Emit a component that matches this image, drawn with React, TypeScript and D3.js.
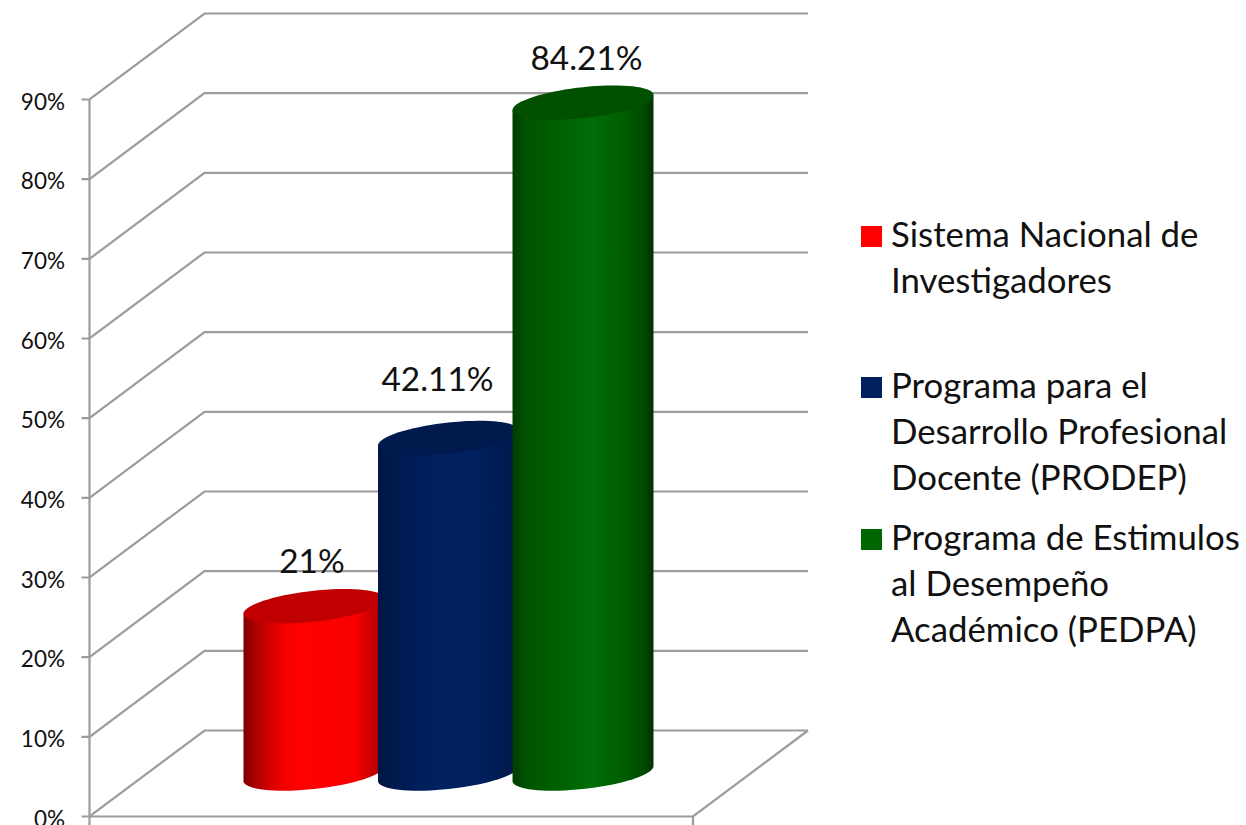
import React from "react";
import * as d3 from "d3";

// Percentages shown on the value axis and on each cylinder
const yTicks = [0, 10, 20, 30, 40, 50, 60, 70, 80, 90];
const programs = ["SNI", "PRODEP", "PEDPA"];
const values = [21, 42.11, 84.21];
const valueLabels = ["21%", "42.11%", "84.21%"];
const legendLines = [
  ["Sistema Nacional de", "Investigadores"],
  ["Programa para el", "Desarrollo Profesional", "Docente (PRODEP)"],
  ["Programa de Estimulos", "al Desempeño", "Académico (PEDPA)"],
];

const W = 1246;
const H = 825;
const FONT = "Lato, 'Open Sans', sans-serif";
const GRID = "#9c9c9c";

const axisLeft = 89.5;
const axisRight = 693;
const depthX = 115;
const depthY = 86;

const y = d3.scaleLinear().domain([0, 90]).range([816.5, 99.5]);
const x = d3.scalePoint<string>().domain(programs).range([256.5, 525.5]);

const radiusX = 70.5;
const radiusY = 15.5;
const skew = 7.5;

// Hand placement of the value labels relative to each cylinder's top
const labelDx = [-2, -11, 3.5];
const labelDy = [-33, -47, -33];
const legendBaselines = [247, 398, 550];

const palette = [
  {
    swatch: "#ff0000",
    cap: "#c00000",
    stops: [[0, "#7e0000"], [0.07, "#a80000"], [0.27, "#f00000"], [0.38, "#ff0000"], [0.8, "#f80000"], [1, "#a00000"]],
  },
  {
    swatch: "#002060",
    cap: "#001a4e",
    stops: [[0, "#001542"], [0.1, "#001a4e"], [0.4, "#002060"], [0.7, "#002060"], [0.92, "#001a4e"], [1, "#001542"]],
  },
  {
    swatch: "#006600",
    cap: "#005000",
    stops: [[0, "#003c00"], [0.1, "#005300"], [0.3, "#005f00"], [0.55, "#006e08"], [0.8, "#005c00"], [0.93, "#004a00"], [1, "#003300"]],
  },
];

const polyline = d3.line<[number, number]>();

// A point on the sheared rim ellipse of a cylinder at angle t
function rim(cx: number, cy: number, t: number): [number, number] {
  return [
    cx + radiusX * Math.cos(t),
    cy - skew * Math.cos(t) + radiusY * Math.sin(t),
  ];
}

function capPath(cx: number, cy: number) {
  const pts = d3.range(0, 73).map((i) => rim(cx, cy, (i / 72) * 2 * Math.PI));
  return polyline(pts) + "Z";
}

function bodyPath(cx: number, top: number, bottom: number) {
  const lower = d3.range(0, 37).map((i) => rim(cx, bottom, (i / 36) * Math.PI));
  const pts: [number, number][] = [rim(cx, top, Math.PI), rim(cx, top, 0), ...lower];
  return polyline(pts) + "Z";
}

export default function App() {
  const backX = axisLeft + depthX;
  const shiftX = depthX / 2;
  const shiftY = depthY / 2;
  return (
    <svg
      width={W}
      height={H}
      viewBox={`0 0 ${W} ${H}`}
      style={{ position: "absolute", left: 0, top: 0, background: "#fff" }}
      fontFamily={FONT}
    >
      <defs>
        {palette.map((p, i) => (
          <linearGradient key={i} id={`cyl-${i}`} x1="0" x2="1" y1="0" y2="0">
            {p.stops.map(([o, c], j) => (
              <stop key={j} offset={o as number} stopColor={c as string} />
            ))}
          </linearGradient>
        ))}
      </defs>

      {/* Back wall rules and side wall diagonals */}
      <g fill="none" stroke={GRID} strokeWidth={2.2}>
        {yTicks.map((t) => (
          <path
            key={t}
            d={
              polyline([
                [axisLeft - 8, y(t)],
                [axisLeft, y(t)],
                [backX, y(t) - depthY],
                [axisRight + depthX, y(t) - depthY],
              ]) as string
            }
          />
        ))}
        <path d={polyline([[axisLeft, y(90)], [axisLeft, H]]) as string} />
        <path
          d={
            polyline([
              [axisLeft, y(0)],
              [axisRight, y(0)],
              [axisRight + depthX, y(0) - depthY],
            ]) as string
          }
        />
        <path d={polyline([[axisRight, y(0)], [axisRight, H]]) as string} />
      </g>

      {/* Value axis labels */}
      <g fontSize={22.5} fill="#111" textAnchor="end">
        {yTicks.map((t) => (
          <text key={t} x={65} y={y(t) + 10}>
            {t}%
          </text>
        ))}
      </g>

      {/* Cylinders, drawn left to right so each overlaps the previous one */}
      {programs.map((name, i) => {
        const cx = (x(name) as number) + shiftX;
        const top = y(values[i]) - shiftY;
        const bottom = y(0) - shiftY;
        return (
          <g key={name}>
            <path d={bodyPath(cx, top, bottom)} fill={`url(#cyl-${i})`} />
            <path d={capPath(cx, top)} fill={palette[i].cap} />
          </g>
        );
      })}

      {/* Value labels above the cylinders */}
      <g fontSize={33.4} fill="#111" textAnchor="middle">
        {programs.map((name, i) => (
          <text
            key={name}
            x={(x(name) as number) + shiftX + labelDx[i]}
            y={y(values[i]) - shiftY + labelDy[i]}
          >
            {valueLabels[i]}
          </text>
        ))}
      </g>

      {/* Legend */}
      <g fontSize={34.8} fill="#111">
        {legendLines.map((lines, i) => {
          const base = legendBaselines[i];
          return (
            <g key={i}>
              <rect x={861} y={base - 21} width={21} height={21} fill={palette[i].swatch} />
              {lines.map((line, j) => (
                <text key={j} x={891} y={base + j * 46}>
                  {line}
                </text>
              ))}
            </g>
          );
        })}
      </g>
    </svg>
  );
}
